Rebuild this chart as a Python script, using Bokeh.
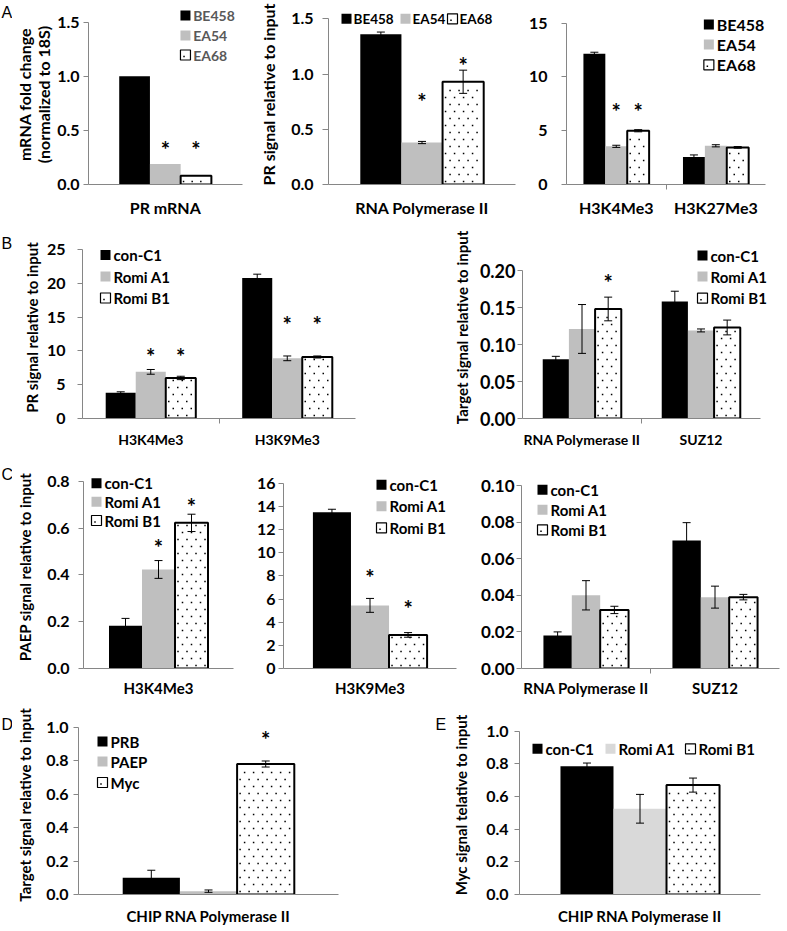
from bokeh.plotting import figure
from bokeh.models import (ColumnDataSource, Range1d, FixedTicker, PrintfTickFormatter,
                          Whisker, TeeHead)
from bokeh.layouts import row, column
from bokeh.core.properties import value
from bokeh.embed import file_html
from bokeh.resources import INLINE

# ------------------------------------------------------------------ data
a_series = ["BE458", "EA54", "EA68"]
romi_series = ["con-C1", "Romi A1", "Romi B1"]
d_series = ["PRB", "PAEP", "Myc"]

a1_groups = ["PR mRNA"]
a1_be458 = [1.00]
a1_ea54 = [0.19]
a1_ea68 = [0.08]
a1_stars = [(0, 1, 0.36), (0, 2, 0.36)]
a1_yticks = [0.0, 0.5, 1.0, 1.5]

a2_groups = ["RNA Polymerase II"]
a2_be458 = [1.36]
a2_be458_err = [0.02]
a2_ea54 = [0.38]
a2_ea54_err = [0.01]
a2_ea68 = [0.93]
a2_ea68_err = [0.105]
a2_stars = [(0, 1, 0.79), (0, 2, 1.11)]
a2_yticks = [0.0, 0.5, 1.0, 1.5]

a3_groups = ["H3K4Me3", "H3K27Me3"]
a3_be458 = [12.15, 2.55]
a3_be458_err = [0.15, 0.2]
a3_ea54 = [3.55, 3.60]
a3_ea54_err = [0.1, 0.1]
a3_ea68 = [5.00, 3.45]
a3_ea68_err = [0.1, 0.08]
a3_stars = [(0, 1, 7.2), (0, 2, 7.2)]
a3_yticks = [0, 5, 10, 15]

b1_groups = ["H3K4Me3", "H3K9Me3"]
b1_con = [3.8, 20.8]
b1_con_err = [0.15, 0.55]
b1_roa = [6.9, 8.9]
b1_roa_err = [0.35, 0.35]
b1_rob = [6.0, 9.1]
b1_rob_err = [0.25, 0.15]
b1_stars = [(0, 1, 9.8), (0, 2, 9.8), (1, 1, 14.5), (1, 2, 14.5)]
b1_yticks = [0, 5, 10, 15, 20, 25]

b2_groups = ["RNA Polymerase II", "SUZ12"]
b2_con = [0.080, 0.158]
b2_con_err = [0.004, 0.014]
b2_roa = [0.121, 0.119]
b2_roa_err = [0.033, 0.002]
b2_rob = [0.148, 0.123]
b2_rob_err = [0.016, 0.010]
b2_stars = [(0, 2, 0.189)]
b2_yticks = [0.0, 0.05, 0.10, 0.15, 0.20]

c1_groups = ["H3K4Me3"]
c1_con = [0.183]
c1_con_err = [0.031]
c1_roa = [0.423]
c1_roa_err = [0.038]
c1_rob = [0.622]
c1_rob_err = [0.037]
c1_stars = [(0, 1, 0.535), (0, 2, 0.711)]
c1_yticks = [0.0, 0.2, 0.4, 0.6, 0.8]

c2_groups = ["H3K9Me3"]
c2_con = [13.5]
c2_con_err = [0.25]
c2_roa = [5.45]
c2_roa_err = [0.6]
c2_rob = [2.9]
c2_rob_err = [0.2]
c2_stars = [(0, 1, 8.2), (0, 2, 5.5)]
c2_yticks = [0, 2, 4, 6, 8, 10, 12, 14, 16]

c3_groups = ["RNA Polymerase II", "SUZ12"]
c3_con = [0.018, 0.070]
c3_con_err = [0.002, 0.0097]
c3_roa = [0.040, 0.039]
c3_roa_err = [0.008, 0.006]
c3_rob = [0.032, 0.039]
c3_rob_err = [0.002, 0.0015]
c3_stars = []
c3_yticks = [0.0, 0.02, 0.04, 0.06, 0.08, 0.10]

d_groups = ["CHIP RNA Polymerase II"]
d_prb = [0.10]
d_prb_err = [0.045]
d_paep = [0.02]
d_paep_err = [0.007]
d_myc = [0.78]
d_myc_err = [0.018]
d_stars = [(0, 2, 0.95)]
d_yticks = [0.0, 0.2, 0.4, 0.6, 0.8, 1.0]

e_groups = ["CHIP RNA Polymerase II"]
e_con = [0.785]
e_con_err = [0.02]
e_roa = [0.525]
e_roa_err = [0.088]
e_rob = [0.67]
e_rob_err = [0.043]
e_stars = []
e_yticks = [0.0, 0.2, 0.4, 0.6, 0.8, 1.0]

# ------------------------------------------------------------------ style
FONT = "Lato"
AXC = "#868686"
BLACK = "#000000"
GRAY = "#bfbfbf"
LIGHT = "#d9d9d9"
DOTS = "dots"


def style_kw(c, line_w=2):
    if c == DOTS:
        return dict(fill_color="white", line_color="black", line_width=line_w)
    return dict(fill_color=c, line_color=None)


def dot_grid(x0, x1, y0, y1, hstep=9.0, vstep=7.0, inset=3.0):
    """staggered dot texture inside a pixel box (x0<x1, y0 top < y1 bottom)"""
    pts = []
    r = 0
    yy = y1 - inset
    while yy >= y0 + inset - 0.5:
        xx = x0 + inset + (r % 2) * hstep / 2
        while xx <= x1 - inset + 0.5:
            pts.append((xx, yy))
            xx += hstep
        yy -= vstep
        r += 1
    return pts


def make_panel(groups, series, vals, errs, stars, colors, yticks, fmt, ylabel,
               fig_x, fig_w, row_top, row_h, frame_top, axis_x, right_px, top_tick_px, axis_y,
               tick_fs=16, cat_fs=15, ylab_fs=15, y_tick_out=5, y_std=4, ylab_std=5,
               x_std=10, minor_out=5, leg=None, bar_w=0.22):
    n = len(groups)
    k = len(series)
    ux = (right_px - axis_x) / n
    uy = (axis_y - top_tick_px) / yticks[-1]
    x_end = -0.5 + (fig_x + fig_w - axis_x) / ux
    y_end = (axis_y - frame_top) / uy

    def px2x(px):
        return -0.5 + (px - axis_x) / ux

    def py2y(py):
        return (axis_y - py) / uy

    def x2px(x):
        return axis_x + (x + 0.5) * ux

    def y2py(y):
        return axis_y - y * uy

    p = figure(width=fig_w, height=row_h, x_range=Range1d(-0.5, x_end),
               y_range=Range1d(0, y_end), output_backend="svg", toolbar_location=None,
               min_border_left=round(axis_x - fig_x), min_border_right=0,
               min_border_top=round(frame_top - row_top),
               min_border_bottom=round(row_top + row_h - axis_y))
    p.outline_line_color = None
    p.xgrid.visible = False
    p.ygrid.visible = False

    dots_x, dots_y = [], []
    for j in range(k):
        xs = [i + (j - (k - 1) / 2) * bar_w for i in range(n)]
        src = ColumnDataSource(dict(x=xs, top=vals[j]))
        p.vbar(x="x", top="top", bottom=0, width=bar_w, source=src, **style_kw(colors[j]))
        if colors[j] == DOTS:
            for xc, v in zip(xs, vals[j]):
                for dx, dy in dot_grid(x2px(xc - bar_w / 2), x2px(xc + bar_w / 2),
                                       y2py(v), y2py(0)):
                    dots_x.append(px2x(dx))
                    dots_y.append(py2y(dy))
        if errs is not None:
            esrc = ColumnDataSource(dict(
                x=xs,
                upper=[v + e for v, e in zip(vals[j], errs[j])],
                lower=[v - e for v, e in zip(vals[j], errs[j])]))
            p.add_layout(Whisker(source=esrc, base="x", upper="upper", lower="lower",
                                 line_color="black", line_width=1, level="overlay",
                                 upper_head=TeeHead(size=8, line_color="black", line_width=1),
                                 lower_head=TeeHead(size=8, line_color="black", line_width=1)))

    if stars:
        ssrc = ColumnDataSource(dict(
            x=[g + (s - (k - 1) / 2) * bar_w for g, s, _ in stars],
            y=[yv for _, _, yv in stars],
            t=["*"] * len(stars)))
        p.text(x="x", y="y", text="t", source=ssrc, text_font=value(FONT),
               text_font_size="22px", text_font_style="bold", text_color="black",
               text_align="center", text_baseline="alphabetic", y_offset=4)

    # legend (drawn inside the extended plot area)
    if leg:
        lefts = leg["lefts"] if isinstance(leg["lefts"], list) else [leg["lefts"]] * k
        cents = leg["centers"] if isinstance(leg["centers"], list) else [leg["centers"]] * k
        tgap = leg.get("tgap", 13)
        for j in range(k):
            p.rect(x=px2x(lefts[j] + 5), y=py2y(cents[j]), width=10, height=10,
                   width_units="screen", height_units="screen",
                   **style_kw(colors[j], line_w=1.2))
            if colors[j] == DOTS:
                dots_x.append(px2x(lefts[j] + 3.5))
                dots_y.append(py2y(cents[j] + 1.5))
        p.text(x=[px2x(l + tgap) for l in lefts], y=[py2y(c) for c in cents], text=series,
               text_font=value(FONT), text_font_size=f"{leg['fs']}px",
               text_font_style="bold", text_color=leg.get("color", "black"),
               text_align="left", text_baseline="middle")

    if dots_x:
        p.scatter(x=dots_x, y=dots_y, marker="square", size=1.5,
                  fill_color="black", line_color=None)

    ya = p.yaxis[0]
    ya.ticker = FixedTicker(ticks=yticks)
    ya.formatter = PrintfTickFormatter(format=fmt)
    ya.bounds = (0, yticks[-1])
    ya.axis_line_color = AXC
    ya.major_tick_line_color = AXC
    ya.major_tick_out = y_tick_out
    ya.major_tick_in = 0
    ya.minor_tick_out = 0
    ya.minor_tick_in = 0
    ya.major_label_standoff = y_std
    ya.major_label_text_font = FONT
    ya.major_label_text_font_size = f"{tick_fs}px"
    ya.major_label_text_font_style = "bold"
    ya.major_label_text_color = "black"
    if ylabel:
        ya.axis_label = ylabel
        ya.axis_label_text_font = FONT
        ya.axis_label_text_font_size = f"{ylab_fs}px"
        ya.axis_label_text_font_style = "bold"
        ya.axis_label_text_color = "black"
        ya.axis_label_standoff = ylab_std
        ya.axis_label_text_line_height = 1.0

    xa = p.xaxis[0]
    xa.ticker = FixedTicker(ticks=list(range(n)),
                            minor_ticks=[i + 0.5 for i in range(n - 1)])
    xa.bounds = (-0.5, n - 0.5)
    xa.major_label_overrides = {i: g for i, g in enumerate(groups)}
    xa.axis_line_color = AXC
    xa.major_tick_out = 0
    xa.major_tick_in = 0
    xa.minor_tick_out = minor_out
    xa.minor_tick_in = 0
    xa.minor_tick_line_color = AXC
    xa.major_label_standoff = x_std
    xa.major_label_text_font = FONT
    xa.major_label_text_font_size = f"{cat_fs}px"
    xa.major_label_text_font_style = "bold"
    xa.major_label_text_color = "black"
    return p


def letter_fig(ch, fig_x, fig_w, row_top, row_h, frame_top, axis_y, lx, ly):
    p = figure(width=fig_w, height=row_h, x_range=Range1d(fig_x, fig_x + fig_w),
               y_range=Range1d(axis_y, frame_top), output_backend="svg",
               toolbar_location=None, x_axis_location=None, y_axis_location=None,
               min_border_left=0, min_border_right=0,
               min_border_top=round(frame_top - row_top),
               min_border_bottom=round(row_top + row_h - axis_y))
    p.outline_line_color = None
    p.grid.visible = False
    p.text(x=[lx], y=[ly], text=[ch], text_font=value("Liberation Sans"),
           text_font_size="16px", text_color="black", text_align="left",
           text_baseline="top")
    return p


A_COL = [BLACK, GRAY, DOTS]
E_COL = [BLACK, LIGHT, DOTS]

# row A : y 0..223, frame top 4, x-axis at 184
RA = dict(row_top=0, row_h=223, frame_top=4, axis_y=184)
la = letter_fig("A", 0, 12, 0, 223, 4, 184, 1, 3)
pa1 = make_panel(a1_groups, a_series, [a1_be458, a1_ea54, a1_ea68], None, a1_stars, A_COL,
                 a1_yticks, "%.1f", "mRNA fold change\n(normalized to 18S)",
                 12, 244, axis_x=81, right_px=241, top_tick_px=21.7, **RA,
                 cat_fs=16, ylab_fs=16, y_tick_out=5, y_std=4, ylab_std=1, x_std=13,
                 leg=dict(lefts=177, centers=[15, 35, 54.5], fs=14, color="#595959"),
                 bar_w=0.2)
pa2 = make_panel(a2_groups, a_series, [a2_be458, a2_ea54, a2_ea68],
                 [a2_be458_err, a2_ea54_err, a2_ea68_err], a2_stars, A_COL,
                 a2_yticks, "%.1f", "PR signal relative to input",
                 256, 269, axis_x=328, right_px=515, top_tick_px=18.3, **RA,
                 cat_fs=16, ylab_fs=16, y_tick_out=6, y_std=9, ylab_std=10, x_std=13,
                 leg=dict(lefts=[341, 400, 447], centers=18.3, fs=13.5, tgap=12))
pa3 = make_panel(a3_groups, a_series, [a3_be458, a3_ea54, a3_ea68],
                 [a3_be458_err, a3_ea54_err, a3_ea68_err], a3_stars, A_COL,
                 a3_yticks, "%d", None,
                 525, 262, axis_x=565, right_px=765, top_tick_px=22.7, **RA,
                 cat_fs=16, y_tick_out=5, y_std=14, x_std=8,
                 leg=dict(lefts=703, centers=[24, 44, 64.3], fs=16))

# row B : y 223..455, frame top 236, x-axis at 418
RB = dict(row_top=223, row_h=232, frame_top=236, axis_y=418)
lb = letter_fig("B", 0, 12, 223, 232, 236, 418, 1, 234)
pb1 = make_panel(b1_groups, romi_series, [b1_con, b1_roa, b1_rob],
                 [b1_con_err, b1_roa_err, b1_rob_err], b1_stars, A_COL,
                 b1_yticks, "%d", "PR signal relative to input",
                 12, 428, axis_x=82, right_px=355, top_tick_px=249, **RB,
                 cat_fs=14, ylab_fs=15, y_tick_out=5, y_std=12, ylab_std=3, x_std=7,
                 leg=dict(lefts=100, centers=[254.5, 276, 297.5], fs=15))
pb2 = make_panel(b2_groups, romi_series, [b2_con, b2_roa, b2_rob],
                 [b2_con_err, b2_roa_err, b2_rob_err], b2_stars, A_COL,
                 b2_yticks, "%.2f", "Target signal relative to input",
                 440, 347, axis_x=522, right_px=760, top_tick_px=270, **RB,
                 tick_fs=18, cat_fs=14, ylab_fs=15, y_tick_out=5, y_std=2, ylab_std=6,
                 x_std=7, leg=dict(lefts=697, centers=[255, 276, 297.7], fs=15))

# row C : y 455..703, frame top 465, x-axis at 668
RC = dict(row_top=455, row_h=248, frame_top=465, axis_y=668)
lc = letter_fig("C", 0, 12, 455, 248, 465, 668, 1, 465)
pc1 = make_panel(c1_groups, romi_series, [c1_con, c1_roa, c1_rob],
                 [c1_con_err, c1_roa_err, c1_rob_err], c1_stars, A_COL,
                 c1_yticks, "%.1f", "PAEP signal relative to input",
                 12, 238, axis_x=83, right_px=233, top_tick_px=480.7, **RC,
                 cat_fs=15, ylab_fs=15, y_tick_out=5, y_std=9, ylab_std=10, x_std=10,
                 leg=dict(lefts=91, centers=[482.7, 501.3, 520], fs=15))
pc2 = make_panel(c2_groups, romi_series, [c2_con, c2_roa, c2_rob],
                 [c2_con_err, c2_roa_err, c2_rob_err], c2_stars, A_COL,
                 c2_yticks, "%d", None,
                 250, 220, axis_x=283, right_px=456, top_tick_px=482.7, **RC,
                 cat_fs=15, y_tick_out=5, y_std=3, x_std=10,
                 leg=dict(lefts=376, centers=[484.3, 505.7, 527.3], fs=15))
pc3 = make_panel(c3_groups, romi_series, [c3_con, c3_roa, c3_rob],
                 [c3_con_err, c3_roa_err, c3_rob_err], c3_stars, A_COL,
                 c3_yticks, "%.2f", None,
                 470, 317, axis_x=521, right_px=779, top_tick_px=485, **RC,
                 tick_fs=17, cat_fs=15, y_tick_out=5, y_std=2, x_std=5,
                 leg=dict(lefts=537, centers=[489.3, 509.3, 529.3], fs=15))

# row D : y 703..931, frame top 715, x-axis at 894
RD = dict(row_top=703, row_h=228, frame_top=715, axis_y=894)
ld = letter_fig("D", 0, 12, 703, 228, 715, 894, 1, 715)
pd = make_panel(d_groups, d_series, [d_prb, d_paep, d_myc],
                [d_prb_err, d_paep_err, d_myc_err], d_stars, A_COL,
                d_yticks, "%.1f", "Target signal relative to input",
                12, 418, axis_x=78, right_px=338, top_tick_px=726.7, **RD,
                cat_fs=15, ylab_fs=15, y_tick_out=5, y_std=5, ylab_std=9, x_std=12,
                leg=dict(lefts=97, centers=[741, 761, 782], fs=15))
le = letter_fig("E", 430, 16, 703, 228, 715, 894, 435, 715)
pe = make_panel(e_groups, romi_series, [e_con, e_roa, e_rob],
                [e_con_err, e_roa_err, e_rob_err], e_stars, E_COL,
                e_yticks, "%.1f", "Myc signal telative to input",
                446, 341, axis_x=519, right_px=760, top_tick_px=730.7, **RD,
                cat_fs=15, ylab_fs=15, y_tick_out=5, y_std=6, ylab_std=13, x_std=12,
                leg=dict(lefts=[532, 605, 685], centers=748.3, fs=15))

layout = column(row(la, pa1, pa2, pa3), row(lb, pb1, pb2),
                row(lc, pc1, pc2, pc3), row(ld, pd, le, pe))

open("out.html", "w").write(file_html(layout, INLINE))
